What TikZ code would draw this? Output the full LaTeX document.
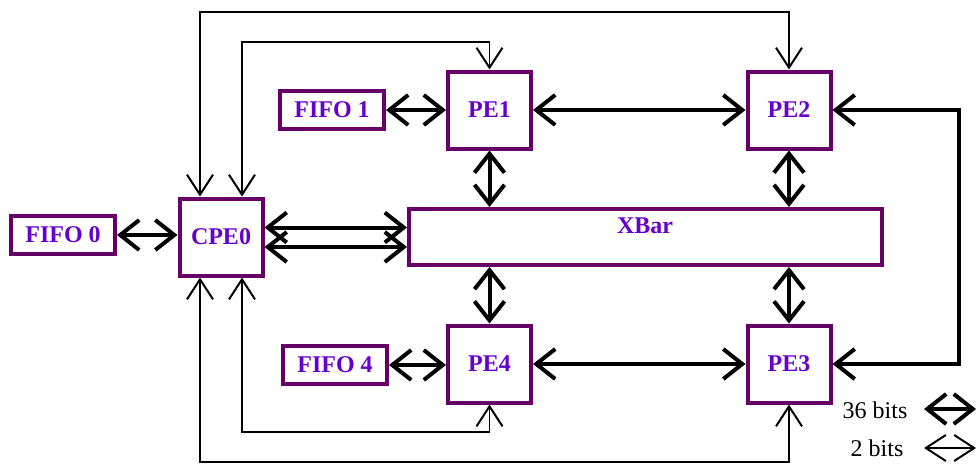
\documentclass[tikz,border=0pt]{standalone}
\usepackage{fontspec}
\setmainfont{Liberation Serif}
\usetikzlibrary{arrows.meta,calc}
\definecolor{boxc}{RGB}{102,0,102}
\definecolor{txtc}{RGB}{102,0,204}
\tikzset{
  box/.style={draw=boxc, line width=4pt, fill=white, inner sep=0pt,
    text=txtc, font=\fontsize{24}{27}\selectfont\bfseries},
  pebox/.style={box, minimum width=83pt, minimum height=77pt},
  fifobox/.style={box, minimum width=104pt, minimum height=38pt},
  lbl/.style={text=txtc, font=\fontsize{24}{27}\selectfont\bfseries, inner sep=0pt},
  bigtip/.tip={Straight Barb[length=19pt,width=30pt]},
  smalltip/.tip={Straight Barb[length=20pt,width=26pt,line width=2pt]},
  thickarr/.style={line width=4pt, bigtip-bigtip},
  thinarr/.style={line width=1.4pt, smalltip-smalltip},
  legtxt/.style={font=\fontsize{24}{27}\selectfont, inner sep=0pt}
}
\begin{document}
\begin{tikzpicture}[x=1pt,y=-1pt]
\useasboundingbox[fill=white] (0,0) rectangle (978,464);
% nodes
\node[fifobox] (fifo0) at (63,235) {FIFO 0};
\node[pebox] (cpe0) at (221,237) {CPE0};
\node[fifobox] (fifo1) at (332,110) {FIFO 1};
\node[pebox] (pe1) at (489.5,110) {PE1};
\node[pebox] (pe2) at (789,110) {PE2};
\node[box, minimum width=473pt, minimum height=56pt] (xbar) at (645.5,237) {};
\node[lbl] (xbarlbl) at (645,226) {XBar};
\node[fifobox] (fifo4) at (335,365) {FIFO 4};
\node[pebox] (pe4) at (489.5,364) {PE4};
\node[pebox] (pe3) at (789,364) {PE3};
% thick connections
\draw[thickarr] (fifo0.east) -- (fifo0.east -| cpe0.west);
\draw[thickarr] (fifo1.east) -- (fifo1.east -| pe1.west);
\draw[thickarr] (fifo4.east) -- (fifo4.east -| pe4.west);
\draw[thickarr] (pe1.east) -- (pe2.west);
\draw[thickarr] (pe4.east) -- (pe3.west);
\draw[thickarr] (pe1.south) -- (pe1.south |- xbar.north);
\draw[thickarr] (pe2.south) -- (pe2.south |- xbar.north);
\draw[thickarr] (xbar.south -| pe4.north) -- (pe4.north);
\draw[thickarr] (xbar.south -| pe3.north) -- (pe3.north);
\draw[thickarr] ($(cpe0.east)+(0,-9.5)$) -- ($(cpe0.east -| xbar.west)+(0,-9.5)$);
\draw[thickarr] ($(cpe0.east)+(0,10)$) -- ($(cpe0.east -| xbar.west)+(0,10)$);
\coordinate (rr) at (959,0);
\draw[thickarr] (pe2.east) -- (pe2.east -| rr) |- (pe3.east);
% thin connections
\coordinate (to) at (200,12);
\coordinate (ti) at (242,42);
\coordinate (bo) at (200,462);
\coordinate (bi) at (242,432);
\draw[thinarr] (cpe0.north -| to) -- (to) -- (to -| pe2.north) -- (pe2.north);
\draw[thinarr] (cpe0.north -| ti) -- (ti) -- (ti -| pe1.north) -- (pe1.north);
\draw[thinarr] (cpe0.south -| bo) -- (bo) -- (bo -| pe3.south) -- (pe3.south);
\draw[thinarr] (cpe0.south -| bi) -- (bi) -- (bi -| pe4.south) -- (pe4.south);
% legend
\node[legtxt] (l36) at (875,410) {36 bits};
\node[legtxt] (l2) at (877,448) {2 bits};
\coordinate (a1) at (924,409);
\coordinate (a2) at (976,409);
\coordinate (b1) at (924,448);
\coordinate (b2) at (976,448);
\draw[thickarr] (a1) -- (a2);
\draw[thinarr] (b1) -- (b2);
\end{tikzpicture}
\end{document}
